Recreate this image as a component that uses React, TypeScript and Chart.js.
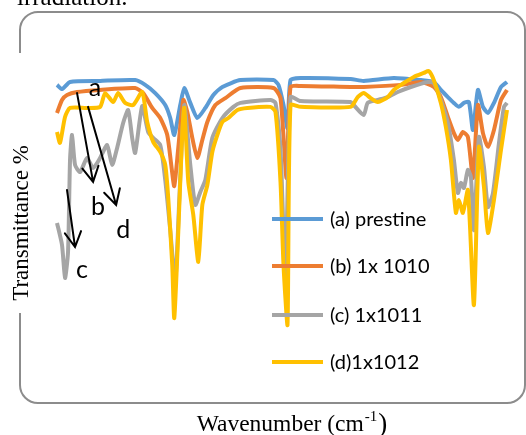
import { useEffect, useRef } from "react";
import { Chart, registerables } from "chart.js";

Chart.register(...registerables);

// ---- Data (wavenumber cm-1, transmittance %) ----
const seriesLabels = ["(a) prestine", "(b) 1x 1010", "(c) 1x1011", "(d)1x1012"];
const seriesColors = ["#5B9BD5", "#ED7D31", "#A5A5A5", "#FFC000"];

const wnA = [3992, 3952, 3888, 3648, 3368, 3288, 3208, 3128, 3088, 3056, 3008, 2976, 2928, 2872, 2808, 2744, 2672, 2528, 2264, 2224, 2184, 2152, 2128, 2048, 1648, 1544, 1304, 1088, 984, 928, 872, 824, 784, 744, 704, 672, 632, 592, 552, 504, 448, 400];
const tA = [92.5, 90.9, 93.6, 94.0, 94.3, 92.5, 89.4, 84.9, 80.0, 73.6, 84.9, 91.3, 85.7, 80.0, 83.8, 88.7, 91.7, 94.3, 94.3, 92.5, 84.9, 76.2, 94.3, 95.1, 94.7, 94.0, 95.1, 94.3, 93.6, 90.6, 87.9, 85.7, 84.2, 85.7, 86.0, 75.5, 90.6, 84.2, 81.9, 85.7, 91.7, 93.6];

const wnB = [3992, 3952, 3912, 3832, 3648, 3368, 3304, 3232, 3168, 3112, 3080, 3056, 3024, 2984, 2952, 2912, 2872, 2832, 2792, 2728, 2648, 2528, 2264, 2208, 2160, 2128, 2048, 1648, 1544, 1248, 1088, 984, 928, 872, 824, 792, 752, 712, 672, 632, 592, 552, 504, 448, 400];
const tB = [81.9, 86.8, 88.7, 89.8, 90.6, 91.3, 89.4, 83.8, 80.0, 73.6, 62.3, 54.3, 68.7, 86.8, 82.3, 72.5, 64.9, 71.7, 78.5, 84.9, 87.5, 91.3, 91.3, 87.5, 57.4, 91.7, 92.1, 91.7, 91.7, 92.5, 93.6, 91.7, 87.9, 80.4, 74.3, 71.7, 74.7, 72.8, 57.4, 84.9, 74.3, 69.1, 75.5, 86.8, 90.6];

const wnC = [3992, 3952, 3928, 3904, 3888, 3872, 3848, 3808, 3752, 3704, 3648, 3592, 3552, 3512, 3464, 3424, 3392, 3368, 3312, 3264, 3224, 3168, 3128, 3088, 3048, 3016, 2976, 2928, 2888, 2848, 2808, 2752, 2672, 2584, 2528, 2288, 2248, 2208, 2168, 2128, 2048, 1648, 1624, 1544, 1512, 1432, 1352, 1272, 1168, 1032, 984, 928, 872, 824, 792, 768, 744, 712, 688, 664, 624, 584, 552, 512, 464, 424, 400];
const tC = [40.4, 32.1, 19.6, 29.4, 64.2, 73.6, 62.3, 59.6, 64.9, 61.1, 64.9, 69.8, 62.3, 68.7, 78.1, 83.0, 72.5, 66.8, 84.5, 74.7, 72.5, 69.8, 56.6, 37.7, 18.1, 49.1, 84.9, 62.3, 47.2, 52.1, 56.6, 72.5, 80.0, 84.2, 85.7, 86.8, 85.7, 68.7, 18.1, 87.9, 86.4, 86.0, 84.9, 81.1, 85.7, 86.8, 87.9, 89.8, 91.7, 93.6, 93.2, 86.8, 78.1, 64.2, 51.7, 55.5, 53.6, 60.4, 57.7, 37.7, 72.8, 61.5, 46.4, 51.7, 70.6, 84.2, 85.7];

const wnD = [3992, 3968, 3928, 3888, 3752, 3648, 3608, 3544, 3504, 3448, 3384, 3312, 3272, 3224, 3168, 3128, 3104, 3072, 3056, 3024, 2992, 2976, 2944, 2904, 2864, 2832, 2792, 2752, 2712, 2672, 2624, 2552, 2472, 2288, 2248, 2208, 2184, 2152, 2128, 2048, 1648, 1592, 1544, 1488, 1432, 1352, 1304, 1224, 1144, 1064, 1024, 984, 928, 888, 848, 808, 784, 752, 712, 664, 624, 584, 552, 504, 448, 400];
const tD = [74.7, 70.6, 80.4, 83.8, 83.8, 84.2, 89.4, 86.0, 89.4, 85.7, 84.9, 89.8, 78.5, 71.0, 67.2, 62.3, 49.8, 24.5, 4.5, 37.0, 74.7, 83.8, 55.9, 43.4, 25.7, 47.2, 54.7, 67.2, 73.6, 78.5, 80.0, 83.0, 83.8, 84.2, 82.3, 55.9, 24.5, 1.9, 84.9, 84.2, 84.2, 87.9, 89.4, 87.5, 86.0, 87.9, 90.6, 93.2, 95.5, 97.0, 97.7, 94.3, 85.7, 76.6, 64.2, 44.2, 49.1, 44.2, 52.8, 9.4, 69.1, 54.0, 36.6, 49.1, 67.9, 83.0];

// Annotation arrows (from -> to) and letters, in data units
const arrowFromW = [3832, 3744, 3912];
const arrowFromT = [89.4, 84.2, 52.8];
const arrowToW = [3704, 3520, 3848];
const arrowToT = [55.9, 47.2, 31.3];
const noteText = ["a", "b", "d", "c"];
const noteW = [3688, 3664, 3464, 3792];
const noteT = [91.3, 46.4, 37.7, 22.6];

const xTitle = "Wavenumber (cm";
const xTitleSup = "-1";
const yTitle = "Transmittance %";
const captionText = "irradiation.";

const wnAll = [wnA, wnB, wnC, wnD];
const tAll = [tA, tB, tC, tD];

const decorPlugin = {
  id: "decor",
  beforeDraw(chart: any) {
    const ctx = chart.ctx;
    ctx.save();
    ctx.fillStyle = "#ffffff";
    ctx.fillRect(0, 0, chart.width, chart.height);
    // rounded frame
    const x0 = 20, y0 = 12, x1 = 525, y1 = 403, r = 18;
    ctx.strokeStyle = "#8C8C8C";
    ctx.lineWidth = 2;
    ctx.beginPath();
    ctx.moveTo(x0 + r, y0);
    ctx.lineTo(x1 - r, y0);
    ctx.arcTo(x1, y0, x1, y0 + r, r);
    ctx.lineTo(x1, y1 - r);
    ctx.arcTo(x1, y1, x1 - r, y1, r);
    ctx.lineTo(x0 + r, y1);
    ctx.arcTo(x0, y1, x0, y1 - r, r);
    ctx.lineTo(x0, y0 + r);
    ctx.arcTo(x0, y0, x0 + r, y0, r);
    ctx.closePath();
    ctx.stroke();
    // y title with white box
    ctx.fillStyle = "#ffffff";
    ctx.fillRect(9, 53, 24, 260);
    ctx.translate(22, 223);
    ctx.rotate(-Math.PI / 2);
    ctx.fillStyle = "#000000";
    ctx.font = "23px 'Liberation Serif', 'Times New Roman', serif";
    ctx.textAlign = "center";
    ctx.textBaseline = "middle";
    ctx.fillText(yTitle, 0, 0);
    ctx.restore();

    ctx.save();
    ctx.fillStyle = "#000000";
    ctx.textBaseline = "alphabetic";
    ctx.textAlign = "left";
    // caption cut at top
    ctx.font = "25px 'Liberation Serif', 'Times New Roman', serif";
    ctx.fillText(captionText, 17, 5);
    // x title
    const f1 = "23.5px 'Liberation Serif', serif";
    const f2 = "15px 'Liberation Serif', serif";
    const f3 = "27px 'Liberation Serif', serif";
    ctx.font = f1;
    const w1 = ctx.measureText(xTitle).width;
    ctx.font = f2;
    const w2 = ctx.measureText(xTitleSup).width;
    ctx.font = f3;
    const w3 = ctx.measureText(")").width;
    let sx = 292 - (w1 + w2 + w3 + 2) / 2;
    const by = 431;
    ctx.font = f1;
    ctx.fillText(xTitle, sx, by);
    sx += w1 + 1;
    ctx.font = f2;
    ctx.fillText(xTitleSup, sx, by - 10);
    sx += w2 + 1;
    ctx.font = f3;
    ctx.fillText(")", sx, by + 1);
    ctx.restore();
  },
  afterDraw(chart: any) {
    const ctx = chart.ctx;
    const xs = chart.scales.x;
    const ys = chart.scales.y;
    ctx.save();
    // legend inside plot
    const rows = [219, 266, 315, 362];
    ctx.font = "20px Lato, 'Noto Sans', sans-serif";
    ctx.textBaseline = "middle";
    ctx.textAlign = "left";
    seriesLabels.forEach((lab, i) => {
      ctx.strokeStyle = seriesColors[i];
      ctx.lineWidth = 4;
      ctx.beginPath();
      ctx.moveTo(272, rows[i]);
      ctx.lineTo(323, rows[i]);
      ctx.stroke();
      ctx.fillStyle = "#000000";
      ctx.fillText(lab, 330, rows[i] + 1);
    });
    // arrows
    ctx.strokeStyle = "#000000";
    ctx.lineWidth = 2;
    ctx.lineCap = "round";
    for (let i = 0; i < arrowFromW.length; i++) {
      const ax = xs.getPixelForValue(arrowFromW[i]);
      const ay = ys.getPixelForValue(arrowFromT[i]);
      const bx = xs.getPixelForValue(arrowToW[i]);
      const by = ys.getPixelForValue(arrowToT[i]);
      const ang = Math.atan2(by - ay, bx - ax);
      const hl = 17;
      const spread = 0.5;
      ctx.beginPath();
      ctx.moveTo(ax, ay);
      ctx.lineTo(bx, by);
      ctx.moveTo(bx - hl * Math.cos(ang - spread), by - hl * Math.sin(ang - spread));
      ctx.lineTo(bx, by);
      ctx.lineTo(bx - hl * Math.cos(ang + spread), by - hl * Math.sin(ang + spread));
      ctx.stroke();
    }
    // letters
    ctx.fillStyle = "#000000";
    ctx.font = "25px Lato, 'Noto Sans', sans-serif";
    ctx.textAlign = "center";
    ctx.textBaseline = "middle";
    noteText.forEach((s, i) => {
      ctx.fillText(s, xs.getPixelForValue(noteW[i]), ys.getPixelForValue(noteT[i]));
    });
    ctx.restore();
  },
};

export default function App() {
  const ref = useRef<HTMLCanvasElement | null>(null);
  useEffect(() => {
    if (!ref.current) return;
    const datasets = seriesLabels.map((label, i) => ({
      label,
      data: wnAll[i].map((w, k) => ({ x: w, y: tAll[i][k] })),
      borderColor: seriesColors[i],
      backgroundColor: seriesColors[i],
      borderWidth: 4,
      pointRadius: 0,
      tension: 0.2,
      fill: false,
      clip: false as any,
      order: 3 - i,
    }));
    const chart = new Chart(ref.current, {
      type: "line",
      data: { datasets },
      options: {
        responsive: false,
        animation: false,
        layout: { padding: { left: 56, right: 19, top: 65, bottom: 105 } },
        scales: {
          x: { type: "linear", min: 400, max: 4000, reverse: true, display: false },
          y: { type: "linear", min: 0, max: 100, display: false },
        },
        plugins: { legend: { display: false }, tooltip: { enabled: false } },
      },
      plugins: [decorPlugin],
    });
    return () => chart.destroy();
  }, []);
  return (
    <div style={{ position: "fixed", left: 0, top: 0, width: 526, height: 435, background: "#fff" }}>
      <canvas ref={ref} width={526} height={435} />
    </div>
  );
}
